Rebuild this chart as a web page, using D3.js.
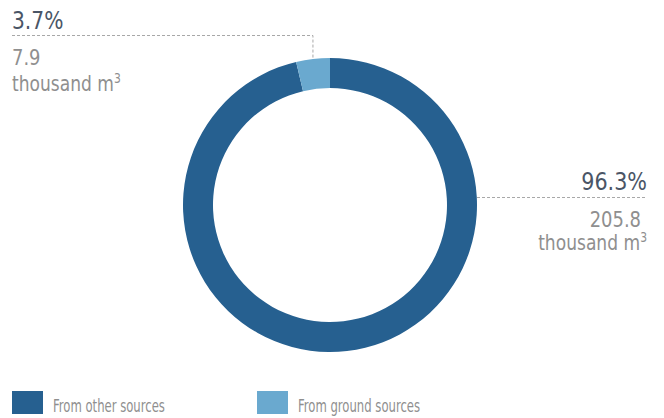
<!DOCTYPE html>
<html>
<head>
<meta charset="utf-8">
<script src="https://cdn.jsdelivr.net/npm/d3@7"></script>
<style>
  body { margin: 0; background: #fff; }
  svg text { font-family: "DejaVu Sans Condensed", "DejaVu Sans", sans-serif; }
</style>
</head>
<body>
<div class="chart"></div>
<script>
// water intake by source
var categories = ["From other sources", "From ground sources"];
var shares = [96.3, 3.7];
var volumes = ["205.8", "7.9"];
var unit = "thousand m";
var colors = ["#266090", "#6aa9cf"];

var svgWidth = 664, svgHeight = 418;
var cx = 330, cy = 205, outerR = 147, innerR = 117;
var dark = "#4a5566", grey = "#8f8f8f";

var svg = d3.select(".chart").append("svg")
  .attr("width", svgWidth)
  .attr("height", svgHeight);

var data = categories.map((c, i) => ({ name: c, value: shares[i], volume: volumes[i], color: colors[i] }));

var pie = d3.pie().sort(null).value(d => d.value);
var arc = d3.arc().innerRadius(innerR).outerRadius(outerR);
var arcs = pie(data);

var donut = svg.append("g").attr("transform", `translate(${cx}, ${cy})`);
donut.selectAll("path")
  .data(arcs)
  .enter()
  .append("path")
  .attr("d", arc)
  .attr("fill", d => d.data.color);

// text in a narrow face: squeeze horizontally, stretch a bit vertically
function label(x, y, anchor, size, color, sx, sy) {
  return svg.append("g")
    .attr("transform", `translate(${x}, ${y}) scale(${sx}, ${sy || 1})`)
    .append("text")
    .attr("text-anchor", anchor)
    .attr("font-size", size)
    .attr("fill", color);
}

function unitLabel(x, y, anchor) {
  var t = label(x, y, anchor, 19, grey, 1.0, 1.1);
  t.append("tspan").text(unit);
  t.append("tspan").attr("dy", -7).attr("font-size", 12).text("3");
}

// small slice label (top left)
var small = arcs[1];
var smallAngle = (small.startAngle + small.endAngle) / 2;
var lx = cx + outerR * Math.sin(smallAngle);
var ly = cy - outerR * Math.cos(smallAngle);

svg.append("path")
  .attr("d", `M12,35.5 H${lx} V${ly}`)
  .attr("fill", "none")
  .attr("stroke", "#a8a8a8")
  .attr("stroke-width", 1)
  .attr("stroke-dasharray", "3,2");

label(12, 29, "start", 25, dark, 0.9).text(small.data.value + "%");
label(12, 65, "start", 19, grey, 1.05, 1.1).text(small.data.volume);
unitLabel(12, 91, "start");

// big slice label (right)
var big = arcs[0];
var rx = 647;

svg.append("line")
  .attr("x1", cx + outerR).attr("x2", rx)
  .attr("y1", 197.5).attr("y2", 197.5)
  .attr("stroke", "#a8a8a8")
  .attr("stroke-dasharray", "3,2");

label(rx, 190, "end", 25, dark, 0.92).text(big.data.value + "%");
label(641, 227, "end", 19, grey, 1.05, 1.1).text(big.data.volume);
unitLabel(rx, 250, "end");

// legend
var legendX = [12, 257];
var legend = svg.selectAll(".legend")
  .data(data)
  .enter()
  .append("g")
  .attr("class", "legend")
  .attr("transform", (d, i) => `translate(${legendX[i]}, 391)`);

legend.append("rect")
  .attr("width", 31).attr("height", 23)
  .attr("fill", d => d.color);

legend.append("text")
  .attr("transform", "translate(41, 21) scale(0.72, 1)")
  .attr("font-size", 18).attr("fill", grey)
  .text(d => d.name);
</script>
</body>
</html>
